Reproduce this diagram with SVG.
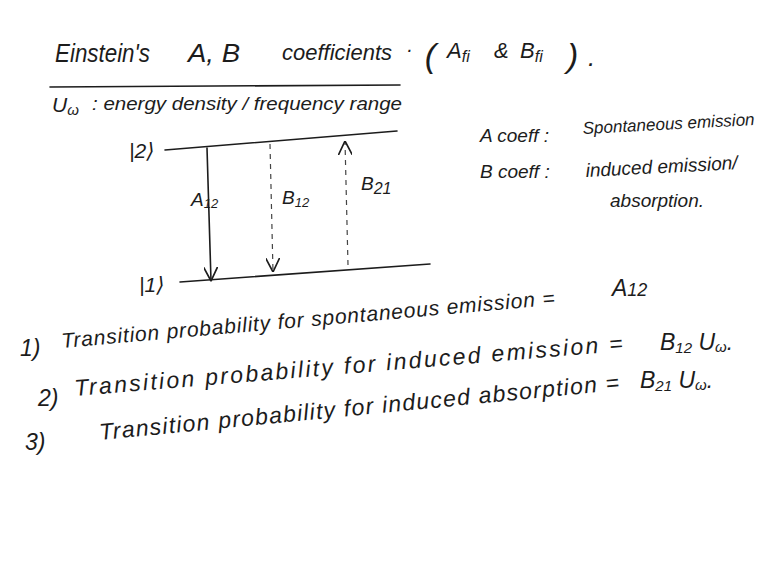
<svg xmlns="http://www.w3.org/2000/svg" width="770" height="583" viewBox="0 0 770 583">
<defs>
<style>
.hw{font-family:"Liberation Sans","DejaVu Sans",sans-serif;font-style:italic;fill:#1c1c1c}
.t{font-size:26px}
.b{font-size:21px}
.e{font-size:23px}
.s{font-size:19px}
.ln{stroke:#1c1c1c;stroke-width:1.6;fill:none;stroke-linecap:round}
.dash{stroke:#444;stroke-width:1.2;fill:none;stroke-dasharray:5 5}
</style>
<marker id="v" viewBox="0 0 10 10" refX="10" refY="5" markerWidth="14" markerHeight="14" markerUnits="userSpaceOnUse" orient="auto">
<path d="M0,0 L10,5 L0,10" fill="none" stroke="#1c1c1c" stroke-width="1.2"/>
</marker>
</defs>
<rect width="770" height="583" fill="#ffffff"/>

<g id="title">
<text class="hw t" x="55" y="62" textLength="95" lengthAdjust="spacingAndGlyphs">Einstein's</text>
<text class="hw t" x="188" y="62" textLength="52" lengthAdjust="spacingAndGlyphs">A, B</text>
<text class="hw" font-size="22" x="282" y="60">coefficients</text>
<text class="hw" x="406" y="56"><tspan font-size="20">·</tspan><tspan font-size="34" dx="12" dy="11">(</tspan></text>
<text class="hw" font-size="22" x="447" y="58">A<tspan font-size="16" dy="4">fi</tspan></text>
<text class="hw" font-size="22" x="494" y="58">&amp;</text>
<text class="hw" font-size="22" x="520" y="58">B<tspan font-size="16" dy="4">fi</tspan></text>
<text class="hw" font-size="34" x="567" y="67">)</text>
<text class="hw t" x="588" y="66">.</text>
<path class="ln" d="M50 87 L400 85"/>
</g>

<g id="definition">
<text class="hw b" x="52" y="112">U<tspan font-size="15" dy="3">ω</tspan></text>
<text class="hw s" x="92" y="110" textLength="310" lengthAdjust="spacingAndGlyphs">: energy density / frequency range</text>
</g>

<g id="level2">
<text class="hw b" x="129" y="158">|2⟩</text>
<path class="ln" d="M165 150 L397 131"/>
</g>
<g id="level1">
<text class="hw b" x="139" y="292">|1⟩</text>
<path class="ln" d="M180 282 L430 264"/>
</g>

<g id="connectors">
<path class="ln" d="M207 148 L211 281" marker-end="url(#v)"/>
<path class="dash" d="M270 144 L273 272" marker-end="url(#v)"/>
<path class="dash" d="M348 265 L345 141" marker-end="url(#v)"/>
</g>

<g id="labels">
<text class="hw s" x="191" y="206">A<tspan font-size="13" dy="2">12</tspan></text>
<text class="hw s" x="282" y="204">B<tspan font-size="13" dy="3">12</tspan></text>
<text class="hw s" x="361" y="190">B<tspan font-size="16" dy="4">21</tspan></text>
</g>

<g id="legend">
<text class="hw s" x="480" y="142">A coeff :</text>
<text class="hw" font-size="17" x="583" y="134" transform="rotate(-3 583 134)">Spontaneous emission</text>
<text class="hw s" x="480" y="178">B coeff :</text>
<text class="hw s" x="586" y="177" transform="rotate(-3 586 177)">induced emission/</text>
<text class="hw s" x="610" y="207">absorption.</text>
</g>

<g id="eq1">
<text class="hw e" x="20" y="356">1)</text>
<text class="hw b" x="62" y="348" transform="rotate(-5 62 348)" textLength="495" lengthAdjust="spacing">Transition probability for spontaneous emission =</text>
<text class="hw e" x="612" y="296">A<tspan font-size="18">12</tspan></text>
</g>

<g id="eq2">
<text class="hw e" x="38" y="406">2)</text>
<text class="hw e" x="75" y="396" transform="rotate(-4.7 75 396)" textLength="550" lengthAdjust="spacing">Transition probability for induced emission =</text>
<text class="hw e" x="660" y="350">B<tspan font-size="15" dy="3">12</tspan><tspan dy="-3"> U</tspan><tspan font-size="15" dy="2">ω</tspan><tspan dy="-2">.</tspan></text>
</g>

<g id="eq3">
<text class="hw e" x="25" y="450">3)</text>
<text class="hw e" x="100" y="440" transform="rotate(-5.5 100 440)" textLength="522" lengthAdjust="spacing">Transition probability for induced absorption =</text>
<text class="hw e" x="640" y="388">B<tspan font-size="15" dy="3">21</tspan><tspan dy="-3"> U</tspan><tspan font-size="15" dy="2">ω</tspan><tspan dy="-2">.</tspan></text>
</g>
</svg>
